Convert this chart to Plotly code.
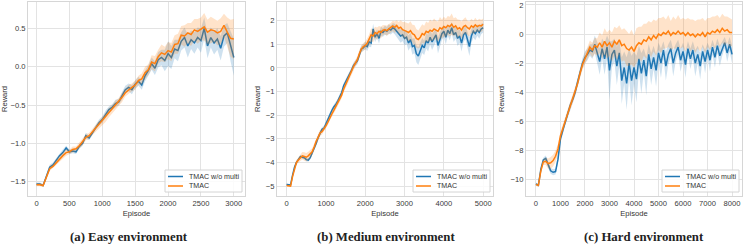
import plotly.graph_objects as go

# ---------------- data ----------------
EASY_EP = list(range(0, 3001, 50))
EASY_WO = [-1.53, -1.53, -1.55, -1.42, -1.31, -1.28, -1.22, -1.16, -1.12, -1.06,
           -1.11, -1.10, -1.11, -1.04, -1.00, -0.90, -0.93, -0.86, -0.79, -0.73,
           -0.69, -0.62, -0.56, -0.53, -0.48, -0.46, -0.38, -0.30, -0.27, -0.30,
           -0.23, -0.19, -0.24, -0.12, -0.05, 0.04, -0.02, 0.09, 0.12, 0.08,
           0.17, 0.12, 0.23, 0.21, 0.33, 0.38, 0.27, 0.35, 0.31, 0.38,
           0.34, 0.50, 0.27, 0.38, 0.31, 0.36, 0.24, 0.40, 0.44, 0.27, 0.12]
EASY_WO_SD = [0.02, 0.02, 0.02, 0.03, 0.03, 0.03, 0.03, 0.03, 0.04, 0.03,
              0.03, 0.03, 0.03, 0.03, 0.03, 0.04, 0.03, 0.03, 0.03, 0.04,
              0.04, 0.05, 0.04, 0.04, 0.05, 0.04, 0.05, 0.05, 0.05, 0.06,
              0.05, 0.06, 0.06, 0.07, 0.07, 0.08, 0.09, 0.10, 0.10, 0.14,
              0.16, 0.15, 0.12, 0.14, 0.12, 0.13, 0.15, 0.12, 0.14, 0.13,
              0.16, 0.14, 0.16, 0.13, 0.15, 0.14, 0.16, 0.14, 0.13, 0.20, 0.24]
EASY_TM = [-1.54, -1.54, -1.55, -1.44, -1.33, -1.30, -1.25, -1.20, -1.16, -1.12,
           -1.11, -1.08, -1.07, -1.03, -0.98, -0.92, -0.90, -0.85, -0.80, -0.75,
           -0.71, -0.66, -0.60, -0.55, -0.50, -0.46, -0.40, -0.34, -0.30, -0.27,
           -0.24, -0.18, -0.16, -0.08, -0.04, 0.06, 0.04, 0.13, 0.18, 0.16,
           0.21, 0.19, 0.29, 0.30, 0.41, 0.40, 0.44, 0.42, 0.48, 0.46,
           0.49, 0.52, 0.45, 0.48, 0.47, 0.44, 0.46, 0.54, 0.45, 0.37, 0.36]
EASY_TM_SD = [0.02, 0.02, 0.02, 0.03, 0.03, 0.03, 0.04, 0.04, 0.04, 0.04,
              0.03, 0.04, 0.03, 0.04, 0.04, 0.04, 0.04, 0.04, 0.05, 0.05,
              0.05, 0.06, 0.06, 0.05, 0.06, 0.05, 0.06, 0.05, 0.06, 0.05,
              0.06, 0.06, 0.07, 0.08, 0.07, 0.09, 0.10, 0.09, 0.11, 0.10,
              0.11, 0.12, 0.12, 0.13, 0.12, 0.14, 0.13, 0.15, 0.14, 0.16,
              0.15, 0.18, 0.16, 0.17, 0.15, 0.16, 0.17, 0.15, 0.19, 0.24, 0.26]

MED_EP = list(range(0, 5001, 50))
MED_WO = [-4.93, -4.93, -4.95, -4.55, -4.20, -4.00, -3.85, -3.75, -3.78, -3.80,
          -3.88, -3.90, -3.80, -3.62, -3.45, -3.20, -2.95, -2.80, -2.60, -2.55,
          -2.35, -2.20, -2.00, -1.80, -1.65, -1.55, -1.40, -1.20, -1.05, -0.75,
          -0.60, -0.45, -0.25, -0.10, 0.10, 0.20, 0.30, 0.55, 0.80, 0.85,
          0.95, 0.90, 1.10, 1.05, 1.65, 1.30, 1.45, 1.25, 1.55, 1.50,
          1.60, 1.55, 1.65, 1.60, 1.70, 1.65, 1.55, 1.45, 1.35, 1.40,
          1.25, 1.30, 1.05, 1.20, 0.90, 0.95, 0.60, 0.50, 0.75, 0.95,
          0.85, 1.15, 1.05, 1.30, 1.10, 1.25, 1.40, 0.95, 1.20, 1.45,
          1.55, 1.30, 1.60, 1.45, 1.70, 1.40, 1.50, 1.25, 1.35, 1.05,
          1.40, 1.50, 1.20, 0.90, 1.35, 1.55, 1.45, 1.60, 1.50, 1.65, 1.70]
MED_WO_SD = [0.04, 0.04, 0.04, 0.06, 0.06, 0.06, 0.06, 0.06, 0.07, 0.07,
             0.07, 0.07, 0.08, 0.08, 0.09, 0.09, 0.10, 0.10, 0.09, 0.10,
             0.10, 0.09, 0.10, 0.10, 0.09, 0.10, 0.10, 0.10, 0.11, 0.10,
             0.11, 0.12, 0.11, 0.12, 0.12, 0.13, 0.14, 0.14, 0.15, 0.15,
             0.16, 0.18, 0.20, 0.18, 0.22, 0.20, 0.18, 0.22, 0.20, 0.18,
             0.20, 0.18, 0.20, 0.19, 0.20, 0.22, 0.24, 0.25, 0.28, 0.26,
             0.30, 0.28, 0.32, 0.30, 0.34, 0.32, 0.36, 0.38, 0.34, 0.32,
             0.30, 0.33, 0.35, 0.30, 0.34, 0.30, 0.28, 0.34, 0.30, 0.27,
             0.26, 0.30, 0.25, 0.28, 0.24, 0.30, 0.27, 0.32, 0.29, 0.36,
             0.30, 0.28, 0.33, 0.40, 0.30, 0.26, 0.28, 0.24, 0.26, 0.22, 0.20]
MED_TM = [-4.98, -4.98, -5.00, -4.60, -4.25, -4.00, -3.90, -3.80, -3.72, -3.75,
          -3.78, -3.72, -3.65, -3.55, -3.35, -3.10, -2.95, -2.75, -2.70, -2.60,
          -2.45, -2.30, -2.10, -1.95, -1.80, -1.65, -1.50, -1.30, -1.15, -0.90,
          -0.70, -0.55, -0.35, -0.15, 0.05, 0.20, 0.35, 0.60, 0.80, 0.90,
          0.95, 1.05, 1.20, 1.40, 1.35, 1.50, 1.45, 1.55, 1.50, 1.60,
          1.62, 1.58, 1.65, 1.70, 1.78, 1.72, 1.80, 1.68, 1.72, 1.62,
          1.60, 1.55, 1.50, 1.58, 1.45, 1.40, 1.25, 1.20, 1.30, 1.45,
          1.40, 1.55, 1.50, 1.60, 1.55, 1.65, 1.60, 1.55, 1.70, 1.65,
          1.75, 1.70, 1.80, 1.75, 1.85, 1.72, 1.78, 1.65, 1.70, 1.60,
          1.75, 1.80, 1.70, 1.65, 1.78, 1.72, 1.82, 1.75, 1.80, 1.78, 1.85]
MED_TM_SD = [0.04, 0.04, 0.04, 0.06, 0.08, 0.10, 0.12, 0.14, 0.16, 0.18,
             0.18, 0.17, 0.16, 0.15, 0.14, 0.13, 0.14, 0.13, 0.12, 0.12,
             0.11, 0.12, 0.11, 0.12, 0.11, 0.12, 0.11, 0.12, 0.13, 0.12,
             0.13, 0.14, 0.13, 0.14, 0.15, 0.14, 0.15, 0.16, 0.15, 0.16,
             0.18, 0.20, 0.22, 0.28, 0.26, 0.24, 0.26, 0.22, 0.24, 0.22,
             0.20, 0.22, 0.21, 0.20, 0.22, 0.24, 0.22, 0.26, 0.30, 0.32,
             0.34, 0.36, 0.38, 0.40, 0.38, 0.42, 0.40, 0.38, 0.42, 0.40,
             0.38, 0.42, 0.40, 0.45, 0.42, 0.44, 0.40, 0.42, 0.45, 0.40,
             0.42, 0.38, 0.40, 0.42, 0.45, 0.38, 0.36, 0.40, 0.34, 0.36,
             0.32, 0.34, 0.30, 0.32, 0.30, 0.28, 0.30, 0.26, 0.28, 0.26, 0.24]

HARD_EP = list(range(0, 8001, 100))
HARD_WO = [-10.30, -10.40, -9.30, -8.65, -8.55, -9.00, -9.40, -9.50, -9.45, -8.60,
           -7.20, -6.60, -6.00, -5.50, -4.90, -4.50, -4.00, -3.30, -2.60, -2.00,
           -1.60, -1.40, -1.10, -1.20, -0.70, -1.30, -1.90, -1.00, -1.70, -0.90,
           -2.50, -1.40, -1.10, -2.20, -1.30, -3.20, -2.30, -3.40, -2.00, -3.20,
           -2.30, -3.10, -1.70, -2.70, -1.80, -2.90, -1.40, -2.40, -1.60, -2.50,
           -1.30, -2.00, -1.10, -2.20, -1.40, -1.00, -2.00, -1.30, -0.90, -1.80,
           -1.20, -2.10, -1.00, -1.70, -1.10, -2.00, -1.40, -2.20, -1.20, -1.90,
           -1.10, -1.80, -0.90, -1.60, -0.80, -1.50, -1.00, -0.60, -1.30, -0.70, -1.40]
HARD_WO_SD = [0.10, 0.10, 0.15, 0.15, 0.20, 0.20, 0.20, 0.20, 0.20, 0.25,
              0.25, 0.25, 0.25, 0.25, 0.25, 0.25, 0.25, 0.30, 0.30, 0.35,
              0.40, 0.40, 0.40, 0.50, 0.60, 0.70, 0.90, 0.70, 1.10, 0.80,
              2.00, 0.90, 0.80, 1.30, 0.90, 1.60, 1.10, 1.80, 1.00, 1.70,
              1.10, 1.60, 0.90, 1.40, 0.80, 1.30, 0.70, 1.10, 0.80, 1.10,
              0.70, 1.00, 0.60, 1.00, 0.70, 0.60, 0.90, 0.60, 0.50, 0.80,
              0.60, 0.90, 0.50, 0.70, 0.60, 0.90, 0.60, 0.90, 0.50, 0.80,
              0.50, 0.80, 0.50, 0.70, 0.50, 0.70, 0.50, 0.40, 0.60, 0.50, 0.60]
HARD_TM = [-10.35, -10.40, -9.40, -8.80, -8.75, -8.90, -8.85, -8.70, -8.40, -7.90,
           -7.00, -6.50, -5.90, -5.40, -4.90, -4.50, -4.00, -3.40, -2.70, -2.10,
           -1.70, -1.30, -0.90, -1.10, -0.80, -0.90, -0.60, -0.90, -0.50, -0.80,
           -0.60, -0.90, -0.50, -0.70, -0.40, -0.80, -0.70, -1.00, -1.10, -0.90,
           -1.20, -0.80, -0.60, -0.70, -0.40, -0.50, -0.20, -0.40, -0.10, -0.30,
           0.00, -0.10, 0.10, 0.00, 0.20, -0.10, 0.10, 0.00, 0.20, 0.00,
           0.10, -0.10, 0.10, -0.10, 0.00, -0.20, 0.00, -0.10, 0.10, -0.20,
           0.10, 0.00, 0.20, 0.10, 0.30, 0.10, 0.40, 0.20, 0.30, 0.10, 0.10]
HARD_TM_SD = [0.10, 0.10, 0.15, 0.20, 0.25, 0.35, 0.40, 0.40, 0.40, 0.35,
              0.30, 0.30, 0.30, 0.25, 0.25, 0.25, 0.25, 0.30, 0.30, 0.35,
              0.40, 0.40, 0.45, 0.50, 0.55, 0.60, 0.70, 0.80, 0.90, 0.90,
              0.90, 1.00, 1.00, 1.10, 1.00, 1.10, 1.10, 1.20, 1.10, 1.20,
              1.10, 1.20, 1.10, 1.20, 1.10, 1.20, 1.10, 1.20, 1.10, 1.20,
              1.10, 1.20, 1.10, 1.00, 1.10, 1.00, 1.10, 1.00, 1.10, 1.00,
              1.00, 1.10, 1.00, 1.10, 1.00, 1.10, 1.00, 1.10, 1.00, 1.10,
              1.00, 1.10, 1.00, 1.10, 1.00, 1.00, 1.00, 1.00, 0.90, 1.00, 0.90]

SERIES_NAMES = ["TMAC w/o multi", "TMAC"]
CAPTIONS = ["(a) Easy environment", "(b) Medium environment", "(c) Hard environment"]
EASY_XTICKS = [0, 500, 1000, 1500, 2000, 2500, 3000]
MED_XTICKS = [0, 1000, 2000, 3000, 4000, 5000]
HARD_XTICKS = [0, 1000, 2000, 3000, 4000, 5000, 6000, 7000, 8000]
EASY_YTICKS = [-1.5, -1.0, -0.5, 0.0, 0.5]
MED_YTICKS = [-5, -4, -3, -2, -1, 0, 1, 2]
HARD_YTICKS = [-10, -8, -6, -4, -2, 0, 2]

# ---------------- styling ----------------
W, H = 743, 244
LINE_COLORS = ["#1f77b4", "#ff7f0e"]
BAND_COLORS = ["rgba(31,119,180,0.22)", "rgba(255,127,14,0.22)"]
FONT = "Liberation Sans, Arial, sans-serif"
TICK_SIZE = 7.6
TITLE_SIZE = 7.6
LEG_SIZE = 7.1

panels = [
    dict(ep=EASY_EP, series=[(EASY_WO, EASY_WO_SD), (EASY_TM, EASY_TM_SD)],
         xdom=(28, 245), xr=[-130, 3170], yr=[-1.686, 0.843],
         xt=EASY_XTICKS, yt=EASY_YTICKS, yfmt=".1f", cap_x=128.7),
    dict(ep=MED_EP, series=[(MED_WO, MED_WO_SD), (MED_TM, MED_TM_SD)],
         xdom=(277, 493), xr=[-245, 5250], yr=[-5.42, 2.79],
         xt=MED_XTICKS, yt=MED_YTICKS, yfmt="d", cap_x=386),
    dict(ep=HARD_EP, series=[(HARD_WO, HARD_WO_SD), (HARD_TM, HARD_TM_SD)],
         xdom=(526, 742), xr=[-405, 8405], yr=[-11.13, 2.2],
         xt=HARD_XTICKS, yt=HARD_YTICKS, yfmt="d", cap_x=643.7),
]

top_px, bot_px = 2, 196
ydom = [1 - bot_px / H, 1 - top_px / H]


def px_x(v):
    return v / W


def px_y(v):
    return 1 - v / H


fig = go.Figure()
annotations = []
shapes = []

for i, p in enumerate(panels):
    n = "" if i == 0 else str(i + 1)
    xa, ya = "x" + n, "y" + n
    for k, (mean, sd) in enumerate(p["series"]):
        upper = [m + s for m, s in zip(mean, sd)]
        lower = [m - s for m, s in zip(mean, sd)]
        fig.add_trace(go.Scatter(
            x=p["ep"] + p["ep"][::-1], y=upper + lower[::-1],
            fill="toself", fillcolor=BAND_COLORS[k], line=dict(width=0),
            mode="lines", hoverinfo="skip", showlegend=False,
            xaxis=xa, yaxis=ya))
        fig.add_trace(go.Scatter(
            x=p["ep"], y=mean, mode="lines", name=SERIES_NAMES[k],
            line=dict(color=LINE_COLORS[k], width=1.5),
            xaxis=xa, yaxis=ya, showlegend=False))

    axis_common = dict(
        showline=True, linecolor="#d6d6d6", linewidth=1, mirror=True,
        showgrid=True, gridcolor="#e3e3e3", gridwidth=1, zeroline=False,
        ticks="", tickfont=dict(family=FONT, size=TICK_SIZE, color="#3a3a3a"),
    )
    fig.layout["xaxis" + n] = dict(
        axis_common, domain=[p["xdom"][0] / W, p["xdom"][1] / W],
        range=p["xr"], tickvals=p["xt"], anchor=ya,
        title=dict(text="Episode", font=dict(family=FONT, size=TITLE_SIZE, color="#333333"), standoff=3),
    )
    fig.layout["yaxis" + n] = dict(
        axis_common, domain=ydom, range=p["yr"], tickvals=p["yt"],
        tickformat=p["yfmt"], anchor=xa,
        title=dict(text="Reward", font=dict(family=FONT, size=TITLE_SIZE, color="#333333"), standoff=4),
    )

    # legend box (drawn in the lower-right corner of each panel)
    right = p["xdom"][1] - 3
    left = right - 77
    top, bottom = 170, 192
    shapes.append(dict(type="rect", xref="paper", yref="paper",
                       x0=px_x(left), x1=px_x(right), y0=px_y(bottom), y1=px_y(top),
                       line=dict(color="#d4d4d4", width=1),
                       fillcolor="rgba(255,255,255,0.85)", layer="above"))
    for k, name in enumerate(SERIES_NAMES):
        yc = 176.5 + k * 9.5
        shapes.append(dict(type="line", xref="paper", yref="paper",
                           x0=px_x(left + 3), x1=px_x(left + 18),
                           y0=px_y(yc), y1=px_y(yc),
                           line=dict(color=LINE_COLORS[k], width=1.5), layer="above"))
        annotations.append(dict(text=name, xref="paper", yref="paper",
                                x=px_x(left + 22), y=px_y(yc), xanchor="left",
                                yanchor="middle", showarrow=False,
                                font=dict(family=FONT, size=LEG_SIZE, color="#333333")))

    annotations.append(dict(
        text="<b>" + CAPTIONS[i] + "</b>", x=px_x(p["cap_x"]), y=px_y(237),
        xref="paper", yref="paper", xanchor="center", yanchor="middle",
        showarrow=False,
        font=dict(family="Liberation Serif, Times New Roman, serif", size=12.8, color="#222222"),
    ))

fig.update_layout(
    width=W, height=H, margin=dict(l=0, r=0, t=0, b=0),
    paper_bgcolor="white", plot_bgcolor="white",
    font=dict(family=FONT, size=TICK_SIZE, color="#333333"),
    showlegend=False, annotations=annotations, shapes=shapes,
)
fig.write_html("out.html")
